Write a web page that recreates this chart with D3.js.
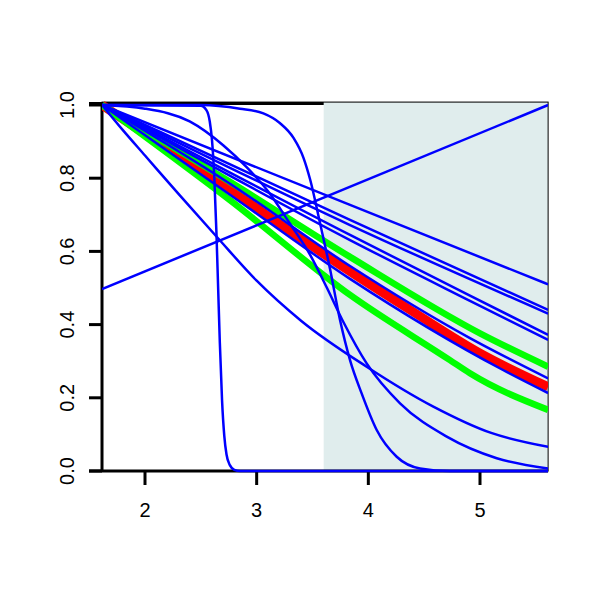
<!DOCTYPE html>
<html>
<head>
<meta charset="utf-8">
<script src="https://cdn.jsdelivr.net/npm/d3@7"></script>
<style>
  body { margin: 0; background: #fff; }
  svg { display: block; font-family: "Liberation Sans", Arial, sans-serif; }
</style>
</head>
<body>
<div id="chart"></div>
<script>
// tick values
const xTicks = [2, 3, 4, 5];
const yTicks = [0, 0.2, 0.4, 0.6, 0.8, 1.0];

// shaded band on x
const bandStart = 3.6;
const bandEnd = 5.61;

// blue curves: [x, y]
const risingLine = [[1.615, 0.497], [5.61, 1.0]];
const fan1 = [[1.615, 1], [3.836, 0.727], [5.61, 0.51]];
const fan2 = [[1.615, 1], [3.836, 0.686], [5.61, 0.44]];
const fan3 = [[1.615, 1], [3.836, 0.672], [5.61, 0.43]];
const fan4 = [[1.615, 1], [3.836, 0.645], [4.91, 0.479], [5.61, 0.372]];
const fan5 = [[1.615, 1], [3.836, 0.631], [4.91, 0.465], [5.61, 0.358]];
const fan6 = [[1.615, 1], [2.761, 0.785], [3.836, 0.56], [4.91, 0.363], [5.61, 0.253]];
const fan7 = [[1.615, 1], [2.761, 0.755], [3.836, 0.525], [5.206, 0.276], [5.61, 0.213]];
const weibullLike = [[1.615, 1], [1.8, 0.932], [2.0, 0.862], [2.3, 0.757], [2.642, 0.64], [3.0, 0.52],
  [3.4, 0.41], [3.985, 0.285], [4.582, 0.176], [5.1, 0.104], [5.61, 0.066]];
const normalLike = [[1.615, 1], [2.0, 0.99], [2.4, 0.955], [2.7, 0.89], [2.91, 0.83], [3.1, 0.765],
  [3.3, 0.675], [3.48, 0.59], [3.63, 0.5], [3.78, 0.405], [3.985, 0.294], [4.284, 0.185],
  [4.702, 0.094], [5.15, 0.035], [5.61, 0.007]];
const steepDrop = [[1.615, 1], [2.5, 0.998], [2.55, 0.986], [2.58, 0.955], [2.6, 0.904], [2.62, 0.807],
  [2.64, 0.649], [2.655, 0.5], [2.67, 0.352], [2.69, 0.193], [2.71, 0.096], [2.73, 0.045],
  [2.76, 0.016], [2.8, 0.003], [2.85, 0], [5.61, 0]];
const lateDrop = [[1.615, 1], [2.5, 1.0], [2.85, 0.99], [3.06, 0.977], [3.21, 0.95], [3.33, 0.91],
  [3.42, 0.855], [3.48, 0.795], [3.567, 0.678], [3.657, 0.552], [3.746, 0.413], [3.836, 0.303],
  [3.94, 0.212], [4.075, 0.112], [4.254, 0.039], [4.463, 0.007], [4.73, 0], [5.61, 0]];

// green band and red centre curve
const greenUpper = [[1.615, 1], [2.761, 0.79], [3.836, 0.585], [5.0, 0.376], [5.61, 0.285]];
const greenLower = [[1.615, 1], [2.761, 0.74], [3.836, 0.481], [4.731, 0.303], [4.91, 0.267], [5.61, 0.167]];
const redCurve = [[1.615, 1], [2.2, 0.88], [2.761, 0.768], [3.3, 0.655], [3.836, 0.545], [4.4, 0.435],
  [5.0, 0.322], [5.61, 0.23]];

const blueCurves = [risingLine, fan1, fan2, fan3, fan4, fan5, fan6, fan7,
  weibullLike, normalLike, steepDrop, lateDrop];

const W = 600, H = 600;
const svg = d3.select("#chart").append("svg")
  .attr("width", W).attr("height", H);

const x = d3.scaleLinear().domain([2, 5]).range([145, 480]);
const y = d3.scaleLinear().domain([0, 1]).range([471, 105]);

const plotLeft = x(1.615), plotRight = x(5.61);
const plotTop = y(1.008);

svg.append("clipPath").attr("id", "plotclip")
  .append("rect")
  .attr("x", plotLeft).attr("y", 0)
  .attr("width", plotRight - plotLeft).attr("height", H);

// top line (hidden under the band on the right)
svg.append("line")
  .attr("x1", 89).attr("x2", plotRight)
  .attr("y1", y(1) - 1.5).attr("y2", y(1) - 1.5)
  .attr("stroke", "#000").attr("stroke-width", 3);

// shaded band
svg.append("rect")
  .attr("x", x(bandStart)).attr("y", plotTop)
  .attr("width", x(bandEnd) - x(bandStart))
  .attr("height", y(0) - plotTop)
  .attr("fill", "#e0eded");

// thin plot box
svg.append("rect")
  .attr("x", plotLeft).attr("y", plotTop)
  .attr("width", plotRight - plotLeft)
  .attr("height", y(0) - plotTop)
  .attr("fill", "none")
  .attr("stroke", "#000").attr("stroke-width", 1);

// bottom axis line
svg.append("line")
  .attr("x1", 89).attr("x2", plotRight)
  .attr("y1", y(0)).attr("y2", y(0))
  .attr("stroke", "#000").attr("stroke-width", 3);

// left axis line
svg.append("line")
  .attr("x1", plotLeft).attr("x2", plotLeft)
  .attr("y1", plotTop).attr("y2", y(0))
  .attr("stroke", "#000").attr("stroke-width", 3);

// ticks and labels
const xAxis = svg.append("g");
xAxis.selectAll("line").data(xTicks).join("line")
  .attr("x1", d => x(d)).attr("x2", d => x(d))
  .attr("y1", y(0)).attr("y2", y(0) + 14)
  .attr("stroke", "#000").attr("stroke-width", 3);
xAxis.selectAll("text").data(xTicks).join("text")
  .attr("x", d => x(d)).attr("y", 517)
  .attr("text-anchor", "middle")
  .style("font-size", "20px")
  .text(d => d);

const yAxis = svg.append("g");
yAxis.selectAll("line").data(yTicks).join("line")
  .attr("x1", plotLeft - 13).attr("x2", plotLeft)
  .attr("y1", d => y(d)).attr("y2", d => y(d))
  .attr("stroke", "#000").attr("stroke-width", 3);
yAxis.selectAll("text").data(yTicks).join("text")
  .attr("transform", d => `translate(74,${y(d)}) rotate(-90)`)
  .attr("text-anchor", "middle")
  .style("font-size", "20px")
  .text(d => d.toFixed(1));

// curves
const line = d3.line()
  .x(d => x(d[0]))
  .y(d => y(d[1]))
  .curve(d3.curveMonotoneX);

const curves = svg.append("g").attr("clip-path", "url(#plotclip)");

curves.append("path").datum(redCurve)
  .attr("d", line).attr("fill", "none")
  .attr("stroke", "#ff0000").attr("stroke-width", 9);

curves.selectAll(".green").data([greenUpper, greenLower]).join("path")
  .attr("class", "green")
  .attr("d", line).attr("fill", "none")
  .attr("stroke", "#00ff00").attr("stroke-width", 6.5);

curves.selectAll(".blue").data(blueCurves).join("path")
  .attr("class", "blue")
  .attr("d", line).attr("fill", "none")
  .attr("stroke", "#0000ff").attr("stroke-width", 2.5);
</script>
</body>
</html>
